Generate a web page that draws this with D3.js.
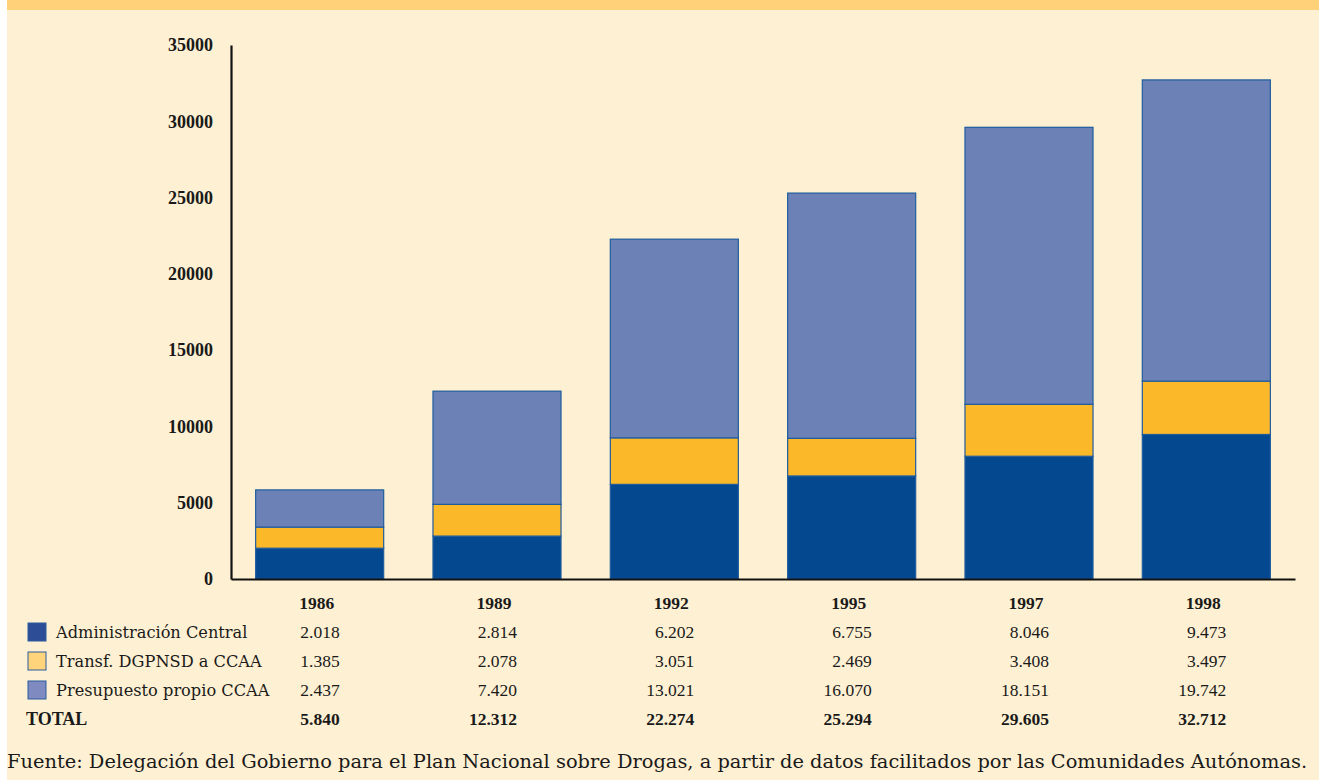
<!DOCTYPE html>
<html><head><meta charset="utf-8">
<script src="https://cdn.jsdelivr.net/npm/d3@7"></script>
<style>
html,body{margin:0;padding:0;background:#fff;}
svg{display:block;}
</style></head>
<body>
<svg id="chart" width="1319" height="780"></svg>
<script>
const years = ["1986","1989","1992","1995","1997","1998"];
const seriesNames = ["Administración Central","Transf. DGPNSD a CCAA","Presupuesto propio CCAA"];
const adminCentral = [2018, 2814, 6202, 6755, 8046, 9473];
const transfDGPNSD = [1385, 2078, 3051, 2469, 3408, 3497];
const presupuestoCCAA = [2437, 7420, 13021, 16070, 18151, 19742];
const totals = [5840, 12312, 22274, 25294, 29605, 32712];
const yTicks = [0, 5000, 10000, 15000, 20000, 25000, 30000, 35000];
const sourceText = "Fuente: Delegación del Gobierno para el Plan Nacional sobre Drogas, a partir de datos facilitados por las Comunidades Autónomas.";

const barColors = ["#04488f", "#fbb829", "#6c82b6"];
const legendColors = ["#2d4e96", "#ffd47a", "#7f8bc0"];

const svg = d3.select("#chart");
const W = 1319, H = 780;
svg.append("rect").attr("x",0).attr("y",0).attr("width",W).attr("height",H).attr("fill","#ffffff");
svg.append("rect").attr("x",7).attr("y",0).attr("width",W-7).attr("height",H).attr("fill","#fef0d2");
svg.append("rect").attr("x",7).attr("y",0).attr("width",W-7).attr("height",10).attr("fill","#ffd27a");

const x0 = 231, x1 = 1295, yTop = 45, yBot = 579;
const x = d3.scaleBand().domain(years).range([x0, x1]).paddingInner(0.278).paddingOuter(0.139);
const y = d3.scaleLinear().domain([0, 35000]).range([yBot, yTop]);

const rows = years.map((yr,i)=>({year:yr, a:adminCentral[i], t:transfDGPNSD[i], p:presupuestoCCAA[i]}));
const stack = d3.stack().keys(["a","t","p"])(rows);

const g = svg.append("g");
stack.forEach((layer, li) => {
  g.selectAll(null).data(layer).join("rect")
    .attr("x", d => x(d.data.year))
    .attr("y", d => y(d[1]))
    .attr("width", x.bandwidth())
    .attr("height", d => y(d[0]) - y(d[1]))
    .attr("fill", barColors[li])
    .attr("stroke", "#1f5c9e")
    .attr("stroke-width", 1.2);
});

const numFont = "'Liberation Serif', serif";
// Axes
const yAxis = d3.axisLeft(y).tickValues(yTicks).tickSize(0).tickPadding(18).tickFormat(d3.format("d"));
const ya = svg.append("g").attr("transform", `translate(${x0},0)`).call(yAxis);
ya.select(".domain").attr("stroke","#111").attr("stroke-width",2.2);
ya.selectAll("text").attr("font-family",numFont).attr("font-weight","bold")
  .attr("font-size",18).attr("fill","#1a1a1a");

const xAxis = d3.axisBottom(x).tickSize(0).tickFormat(()=> "");
const xa = svg.append("g").attr("transform", `translate(0,${yBot})`).call(xAxis);
xa.select(".domain").attr("stroke","#111").attr("stroke-width",2.2);

// Year labels
svg.selectAll(null).data(years).join("text")
  .attr("x", d => x(d) + x.bandwidth()/2 - 3)
  .attr("y", 609)
  .attr("text-anchor","middle")
  .attr("font-family",numFont).attr("font-weight","bold")
  .attr("font-size",17.5).attr("fill","#1a1a1a")
  .text(d => d);

// Table
const fmt = v => d3.format(",")(v).replace(/,/g, ".");
const tableRows = [adminCentral, transfDGPNSD, presupuestoCCAA, totals];
const rowY = [638, 667, 696, 725];
tableRows.forEach((vals, ri) => {
  svg.selectAll(null).data(vals).join("text")
    .attr("x", (d,i) => x(years[i]) + x.bandwidth()/2 + 20)
    .attr("y", rowY[ri])
    .attr("text-anchor","end")
    .attr("font-family",numFont)
    .attr("font-weight", ri === 3 ? "bold" : "normal")
    .attr("font-size",17.5).attr("fill","#1a1a1a")
    .text(d => fmt(d));
});
seriesNames.forEach((name, i) => {
  svg.append("rect").attr("x",28).attr("y",rowY[i]-15).attr("width",18).attr("height",18)
    .attr("fill",legendColors[i]).attr("stroke","#2d5aa0").attr("stroke-width",1);
  svg.append("text").attr("x",56).attr("y",rowY[i])
    .attr("font-family","'DejaVu Serif', serif").attr("font-size",16.2).attr("fill","#1a1a1a")
    .text(name);
});
svg.append("text").attr("x",26).attr("y",rowY[3])
  .attr("font-family",numFont).attr("font-weight","bold")
  .attr("font-size",18).attr("fill","#1a1a1a").text("TOTAL");

svg.append("text").attr("x",7).attr("y",768)
  .attr("font-family","'DejaVu Serif', serif").attr("font-size",19.4).attr("fill","#1a1a1a")
  .text(sourceText);
</script>
</body></html>
